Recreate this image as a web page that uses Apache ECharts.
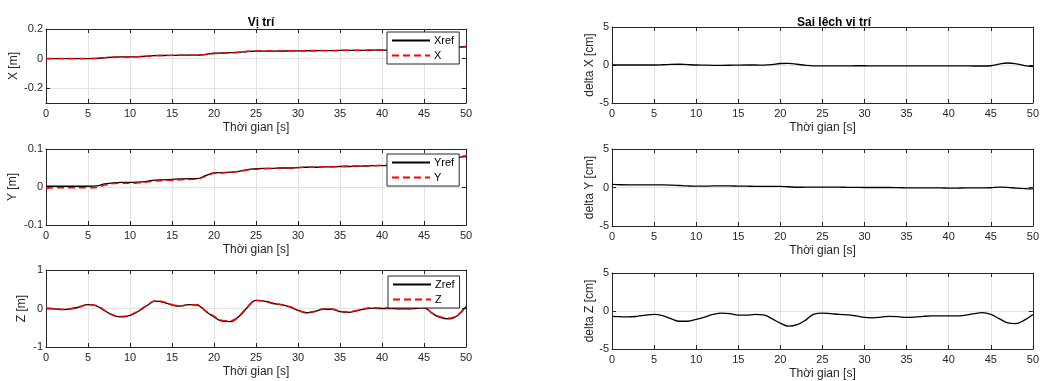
<!DOCTYPE html>
<html>
<head>
<meta charset="utf-8">
<script src="https://cdn.jsdelivr.net/npm/echarts@6/dist/echarts.min.js"></script>
<style>
  html, body { margin: 0; background: #fff; }
  #chart { width: 1042px; height: 381px; }
</style>
</head>
<body>
<div id="chart"></div>
<script>
// thoi gian [s]
const t = [0,1,2,3,4,5,6,7,8,9,10,11,12,13,14,15,16,17,18,19,20,21,22,23,24,25,
  26,27,28,29,30,31,32,33,34,35,36,37,38,39,40,41,42,43,44,45,46,47,48,49,50];

const xRef = [0,0,0,0,0,0,0.001,0.007,0.01,0.011, 0.011,0.013,0.016,0.02,0.021,0.022,0.023,0.023,0.023,0.029,
  0.036,0.038,0.04,0.043,0.048,0.05,0.05,0.051,0.051,0.052, 0.052,0.053,0.053,0.054,0.054,0.055,0.055,0.056,0.056,0.057,
  0.057,0.058,0.06,0.063,0.067,0.071,0.074,0.076,0.077,0.078,0.08];
const xPos = [0,0,0,0,0,0,0.001,0.006,0.009,0.01, 0.011,0.013,0.016,0.02,0.021,0.022,0.023,0.023,0.023,0.028,
  0.034,0.036,0.039,0.043,0.049,0.051,0.051,0.052,0.052,0.053, 0.053,0.054,0.054,0.055,0.055,0.056,0.056,0.057,0.057,0.058,
  0.058,0.059,0.061,0.064,0.068,0.072,0.073,0.073,0.075,0.079,0.082];

const yRef = [0.002,0.002,0.002,0.002,0.002,0.002,0.003,0.008,0.011,0.012, 0.012,0.013,0.015,0.018,0.019,0.02,0.021,0.022,0.022,0.03,
  0.037,0.038,0.039,0.041,0.046,0.048,0.049,0.049,0.05,0.05, 0.051,0.052,0.052,0.053,0.053,0.054,0.054,0.055,0.055,0.056,
  0.056,0.057,0.058,0.06,0.063,0.067,0.071,0.074,0.076,0.078,0.08];
const yPos = [-0.003,-0.002,-0.002,-0.002,-0.002,-0.002,-0.001,0.005,0.009,0.01, 0.01,0.011,0.013,0.016,0.017,0.018,0.019,0.02,0.021,0.028,
  0.036,0.037,0.039,0.041,0.045,0.047,0.048,0.049,0.05,0.05, 0.051,0.052,0.052,0.053,0.053,0.054,0.055,0.055,0.056,0.056,
  0.057,0.057,0.058,0.06,0.063,0.067,0.071,0.074,0.077,0.079,0.082];

const zRef = [0,-0.01,-0.03,-0.01,0.04,0.1,0.07,-0.06,-0.18,-0.22, -0.18,-0.07,0.07,0.19,0.16,0.09,0.06,0.1,0.09,-0.07,
  -0.22,-0.33,-0.34,-0.2,0.03,0.21,0.19,0.13,0.1,0.04, -0.05,-0.11,-0.08,-0.02,-0.02,-0.08,-0.1,-0.06,-0.01,0.01,
  0,0,-0.01,-0.01,0,0.02,-0.13,-0.24,-0.27,-0.18,0.05];
const zPos = [0.01,0,-0.02,0,0.05,0.1,0.08,-0.05,-0.17,-0.21, -0.17,-0.06,0.08,0.2,0.17,0.1,0.07,0.1,0.1,-0.06,
  -0.2,-0.31,-0.32,-0.19,0.05,0.21,0.2,0.14,0.1,0.05, -0.04,-0.1,-0.07,-0.01,-0.01,-0.07,-0.09,-0.05,0,0.02,
  0.01,0.01,0,0,0.01,0.02,-0.12,-0.22,-0.25,-0.17,0.06];

// sai lech [cm]
const dX = [0,0,0,0,0,0,0.03,0.08,0.1,0.05, 0,-0.02,-0.04,-0.04,-0.03,-0.01,0,0,-0.01,0.05,
  0.2,0.22,0.1,-0.05,-0.12,-0.12,-0.12,-0.11,-0.11,-0.1, -0.1,-0.11,-0.12,-0.12,-0.12,-0.12,-0.12,-0.12,-0.12,-0.12,
  -0.12,-0.12,-0.12,-0.13,-0.13,-0.1,0.12,0.26,0.15,-0.08,-0.2];
const dY = [0.4,0.36,0.35,0.35,0.34,0.33,0.33,0.32,0.26,0.2, 0.17,0.18,0.2,0.21,0.2,0.19,0.17,0.15,0.15,0.15,
  0.14,0.1,0.03,0.04,0.05,0.06,0.05,0.04,0.02,0.01, 0,0,0,0,-0.02,-0.04,-0.05,-0.05,-0.06,-0.06,
  -0.07,-0.07,-0.06,-0.06,-0.05,-0.03,0.05,0.02,-0.08,-0.15,-0.18];
const dZ = [-0.7,-0.75,-0.78,-0.7,-0.55,-0.45,-0.6,-1.0,-1.35,-1.35, -1.1,-0.8,-0.45,-0.27,-0.35,-0.55,-0.55,-0.45,-0.5,-1.0,
  -1.6,-2.0,-1.8,-1.2,-0.4,-0.27,-0.35,-0.45,-0.5,-0.65, -0.85,-0.9,-0.8,-0.7,-0.75,-0.85,-0.8,-0.7,-0.65,-0.65,
  -0.65,-0.65,-0.55,-0.35,-0.22,-0.45,-1.0,-1.55,-1.65,-1.2,-0.45];

// tick labels
const xTicks = [0,5,10,15,20,25,30,35,40,45,50];
const xPosTicks = [-0.2,0,0.2];
const yPosTicks = [-0.1,0,0.1];
const zPosTicks = [-1,0,1];
const errTicks = [-5,0,5];

const TXT = '#262626';
const GRIDC = '#e3e3e3';
const FONT = 'Liberation Sans, Arial, sans-serif';

const grids = [
  {left: 46, top: 29, width: 420, height: 74},
  {left: 46, top: 149, width: 420, height: 76},
  {left: 46, top: 270, width: 420, height: 77},
  {left: 612, top: 27, width: 425, height: 76},
  {left: 612, top: 149, width: 425, height: 77},
  {left: 612, top: 273, width: 425, height: 77},
];

const ySpecs = [
  {min: -0.3, max: 0.2, ticks: xPosTicks, name: 'X [m]', gap: 25},
  {min: -0.1, max: 0.1, ticks: yPosTicks, name: 'Y [m]', gap: 27},
  {min: -1, max: 1, ticks: zPosTicks, name: 'Z [m]', gap: 18},
  {min: -5, max: 5, ticks: errTicks, name: 'delta X [cm]', gap: 15},
  {min: -5, max: 5, ticks: errTicks, name: 'delta Y [cm]', gap: 15},
  {min: -5, max: 5, ticks: errTicks, name: 'delta Z [cm]', gap: 15},
];

let xAxes = [];
let yAxes = [];
grids.forEach(function (g, i) {
  let s = ySpecs[i];
  xAxes.push({
    gridIndex: i, type: 'value', min: 0, max: 50, position: 'bottom',
    axisLine: {show: true, onZero: false, lineStyle: {color: TXT}},
    axisTick: {inside: true, length: 4, customValues: xTicks, lineStyle: {color: TXT}},
    axisLabel: {customValues: xTicks, color: TXT, fontSize: 11, fontFamily: FONT, margin: 5},
    splitLine: {show: true, lineStyle: {color: GRIDC}},
    name: 'Thời gian [s]', nameLocation: 'middle', nameGap: 19,
    nameTextStyle: {color: TXT, fontSize: 12, fontFamily: FONT},
  });
  xAxes.push({
    gridIndex: i, type: 'value', min: 0, max: 50, position: 'top',
    axisLine: {show: true, onZero: false, lineStyle: {color: TXT}},
    axisTick: {inside: true, length: 4, customValues: xTicks, lineStyle: {color: TXT}},
    axisLabel: {show: false}, splitLine: {show: false},
  });
  yAxes.push({
    gridIndex: i, type: 'value', min: s.min, max: s.max, position: 'left',
    axisLine: {show: true, onZero: false, lineStyle: {color: TXT}},
    axisTick: {inside: true, length: 4, customValues: s.ticks, lineStyle: {color: TXT}},
    axisLabel: {customValues: s.ticks, color: TXT, fontSize: 11, fontFamily: FONT, margin: 3},
    splitLine: {show: true, lineStyle: {color: GRIDC}},
    name: s.name, nameLocation: 'middle', nameGap: s.gap,
    nameTextStyle: {color: TXT, fontSize: 12, fontFamily: FONT},
  });
  yAxes.push({
    gridIndex: i, type: 'value', min: s.min, max: s.max, position: 'right',
    axisLine: {show: true, onZero: false, lineStyle: {color: TXT}},
    axisTick: {inside: true, length: 4, customValues: s.ticks, lineStyle: {color: TXT}},
    axisLabel: {show: false}, splitLine: {show: false},
  });
});

function pairs(vals) {
  return t.map(function (v, k) { return [v, vals[k]]; });
}

function refLine(name, i, vals) {
  return {
    name: name, type: 'line', xAxisIndex: 2 * i, yAxisIndex: 2 * i,
    data: pairs(vals), symbol: 'none', smooth: 0.4,
    lineStyle: {color: '#000', width: 1.3},
    itemStyle: {color: '#000'},
  };
}

function measLine(name, i, vals) {
  return {
    name: name, type: 'line', xAxisIndex: 2 * i, yAxisIndex: 2 * i,
    data: pairs(vals), symbol: 'none', smooth: 0.4,
    lineStyle: {color: '#ff0000', width: 1.5, type: [7, 4]},
    itemStyle: {color: '#ff0000'},
  };
}

function legendAt(names, left, top) {
  return {
    data: names, orient: 'vertical', left: left, top: top,
    itemWidth: 38, itemHeight: 12, itemGap: 4,
    padding: [3, 5, 3, 4],
    borderColor: TXT, borderWidth: 1, borderRadius: 0,
    backgroundColor: '#fff',
    itemStyle: {opacity: 0},
    lineStyle: {width: 2},
    textStyle: {color: '#000', fontSize: 11, fontFamily: FONT, padding: [0, 0, 0, -1]},
  };
}

let option = {
  animation: false,
  backgroundColor: '#fff',
  title: [
    {text: 'Vị trí', left: 256, top: 12, textAlign: 'center',
      textStyle: {fontSize: 12, fontWeight: 'bold', color: '#000', fontFamily: FONT}},
    {text: 'Sai lệch vị trí', left: 829, top: 12, textAlign: 'center',
      textStyle: {fontSize: 12, fontWeight: 'bold', color: '#000', fontFamily: FONT}},
  ],
  legend: [
    legendAt(['Xref', 'X'], 387, 32),
    legendAt(['Yref', 'Y'], 387, 154),
    legendAt(['Zref', 'Z'], 388, 276),
  ],
  grid: grids,
  xAxis: xAxes,
  yAxis: yAxes,
  series: [
    refLine('Xref', 0, xRef),
    measLine('X', 0, xPos),
    refLine('Yref', 1, yRef),
    measLine('Y', 1, yPos),
    refLine('Zref', 2, zRef),
    measLine('Z', 2, zPos),
    refLine('dX', 3, dX),
    refLine('dY', 4, dY),
    refLine('dZ', 5, dZ),
  ]
};

let chart = echarts.init(document.getElementById('chart'), null, {width: 1042, height: 381});
chart.setOption(option);
</script>
</body>
</html>
